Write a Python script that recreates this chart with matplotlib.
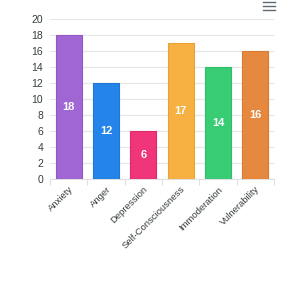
import matplotlib.pyplot as plt
import numpy as np

plt.rcParams['font.family'] = ['Liberation Sans', 'DejaVu Sans']

categories = ['Anxiety', 'Anger', 'Depression', 'Self-Consciousness', 'Immoderation', 'Vulnerability']
values = [18, 12, 6, 17, 14, 16]
colors = ['#a066d3', '#2484ea', '#f0357a', '#f6b142', '#38cd74', '#e6883e']
edges = ['#9058c4', '#1f76d6', '#dc2a6c', '#e9a234', '#2fbd67', '#d87a31']

fig = plt.figure(figsize=(3, 3), dpi=100)
ax = fig.add_axes([0.167, 0.403, 0.746, 0.534])

x = np.arange(len(categories))
ax.bar(x, values, width=0.7, color=colors, edgecolor=edges, linewidth=0.8, zorder=3)
for xi, v in zip(x, values):
    ax.text(xi, v / 2, str(v), ha='center', va='center', color='white',
            fontsize=8, fontweight='bold', zorder=4)

ax.set_xlim(-0.5, len(categories) - 0.5)
ax.set_ylim(0, 20)
ax.set_yticks(range(0, 21, 2))
ax.yaxis.grid(True, color='#e6e6e6', linewidth=0.8, zorder=0)
ax.tick_params(axis='y', length=0, labelsize=7.5, labelcolor='#373d3f', pad=5)

ax.set_xticks(x)
ax.set_xticklabels(categories, rotation=45, ha='right', rotation_mode='anchor',
                   fontsize=6.8, color='#373d3f')
ax.tick_params(axis='x', which='major', length=0, pad=4)
ax.set_xticks(np.arange(-0.5, len(categories)), minor=True)
ax.tick_params(axis='x', which='minor', length=4, color='#e0e0e0', width=0.8)

for s in ['top', 'right', 'left']:
    ax.spines[s].set_visible(False)
ax.spines['bottom'].set_color('#e0e0e0')
ax.spines['bottom'].set_linewidth(0.8)

# menu icon
for yy in [0.993, 0.98, 0.967]:
    fig.add_artist(plt.Line2D([0.877, 0.917], [yy, yy], color='#5f6b73', linewidth=1.0))

plt.savefig('out.png')
